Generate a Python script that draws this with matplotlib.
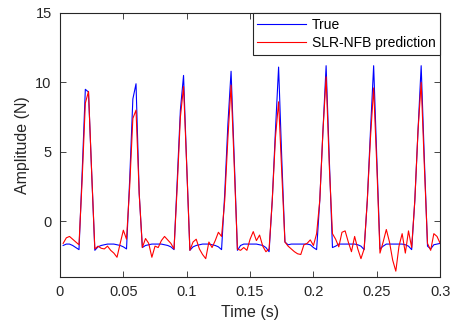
import numpy as np
import matplotlib
matplotlib.use('Agg')
import matplotlib.pyplot as plt
from matplotlib.ticker import FixedLocator, FixedFormatter

# sample times (s), one sample every 2.5 ms
time_s = np.arange(1, 121) * 0.0025

# measured force
true_force = [
    -1.75, -1.65, -1.65, -1.75, -1.9, -2.05, 3.5, 9.5, 9.3, 3.5,
    -2.1, -1.85, -1.75, -1.7, -1.65, -1.65, -1.65, -1.7, -1.75, -1.85,
    -2.0, 3.0, 8.8, 9.9, 2.0, -1.9, -1.75, -1.7, -1.65, -1.65,
    -1.65, -1.65, -1.7, -1.75, -1.85, -2.05, 2.9, 8.0, 10.5, 4.0,
    -2.1, -1.85, -1.75, -1.7, -1.65, -1.65, -1.65, -1.7, -1.75, -1.85,
    -2.05, 2.0, 7.0, 10.8, 4.5, -2.1, -1.75, -1.65, -1.65, -1.65,
    -1.65, -1.65, -1.7, -1.75, -1.9, -2.2, 1.5, 6.5, 11.1, 4.5,
    -1.5, -1.7, -1.65, -1.65, -1.65, -1.65, -1.65, -1.65, -1.7, -1.9,
    -2.05, 1.5, 6.5, 11.2, 4.5, -1.9, -1.8, -1.65, -1.65, -1.65,
    -1.65, -1.65, -1.65, -1.7, -1.8, -2.05, 1.5, 6.5, 11.2, 4.5,
    -2.0, -1.8, -1.65, -1.65, -1.65, -1.65, -1.65, -1.65, -1.7, -1.8,
    -2.05, 1.5, 6.5, 11.2, 4.5, -1.8, -2.0, -1.7, -1.65, -1.6,
]

# SLR-NFB predicted force
pred_force = [
    -1.6, -1.2, -1.1, -1.3, -1.5, -1.7, 3.0, 8.5, 9.35, 3.5,
    -2.0, -1.8, -1.95, -2.0, -1.8, -2.1, -2.3, -2.6, -1.6, -0.65,
    -1.3, 2.5, 7.4, 8.0, 2.0, -1.9, -1.25, -1.6, -2.6, -1.8,
    -1.9, -1.4, -1.1, -1.35, -1.6, -2.0, 2.5, 7.5, 9.7, 4.0,
    -2.1, -1.5, -1.3, -2.0, -2.4, -2.7, -1.5, -1.9, -1.4, -0.8,
    -1.1, 1.5, 6.0, 9.8, 4.0, -2.0, -2.1, -1.9, -2.1, -1.3,
    -0.75, -1.4, -1.0, -1.8, -2.2, -2.0, 1.5, 6.0, 8.6, 3.5,
    -1.5, -1.8, -2.0, -2.2, -2.35, -2.4, -1.7, -1.6, -1.35, -1.75,
    -0.9, 1.5, 6.5, 10.4, 4.0, -0.9, -1.3, -1.85, -0.8, -0.7,
    -1.5, -2.2, -1.1, -2.0, -2.7, -2.0, 1.5, 6.0, 9.6, 4.0,
    -2.3, -1.5, -0.6, -1.5, -2.8, -3.6, -1.8, -0.9, -2.3, -0.7,
    -1.9, 1.5, 6.5, 10.0, 4.0, -1.6, -2.1, -0.9, -1.1, -1.6,
]

x_ticks = [0, 0.05, 0.1, 0.15, 0.2, 0.25, 0.3]
x_labels = ['0', '0.05', '0.1', '0.15', '0.2', '0.25', '0.3']
y_ticks = [0, 5, 10, 15]

plt.rcParams['font.family'] = ['Liberation Sans', 'DejaVu Sans']

fig = plt.figure(figsize=(4.51, 3.24), dpi=100)
ax = fig.add_axes([0.133, 0.146, 0.843, 0.814])

ax.plot(time_s, true_force, color=(0, 0, 1), lw=0.8, label='True')
ax.plot(time_s, pred_force, color=(1, 0, 0), lw=0.8, label='SLR-NFB prediction')

ax.set_xlim(0, 0.3)
ax.set_ylim(-4, 15)
ax.xaxis.set_major_locator(FixedLocator(x_ticks))
ax.xaxis.set_major_formatter(FixedFormatter(x_labels))
ax.set_yticks(y_ticks)

for s in ax.spines.values():
    s.set_color('#262626')
    s.set_linewidth(0.8)
ax.tick_params(direction='in', length=4, width=0.6, colors='#262626',
               labelsize=10.5, top=True, right=True, pad=6)

ax.set_xlabel('Time (s)', fontsize=11.5, color='#262626')
ax.set_ylabel('Amplitude (N)', fontsize=11.5, color='#262626')

leg = ax.legend(loc='upper right', borderaxespad=0, fancybox=False,
                edgecolor='#262626', framealpha=1, fontsize=10,
                handlelength=3.5, handletextpad=0.4, borderpad=0.35,
                labelspacing=0.3)
leg.get_frame().set_linewidth(0.8)

fig.savefig('out.png', dpi=100)
